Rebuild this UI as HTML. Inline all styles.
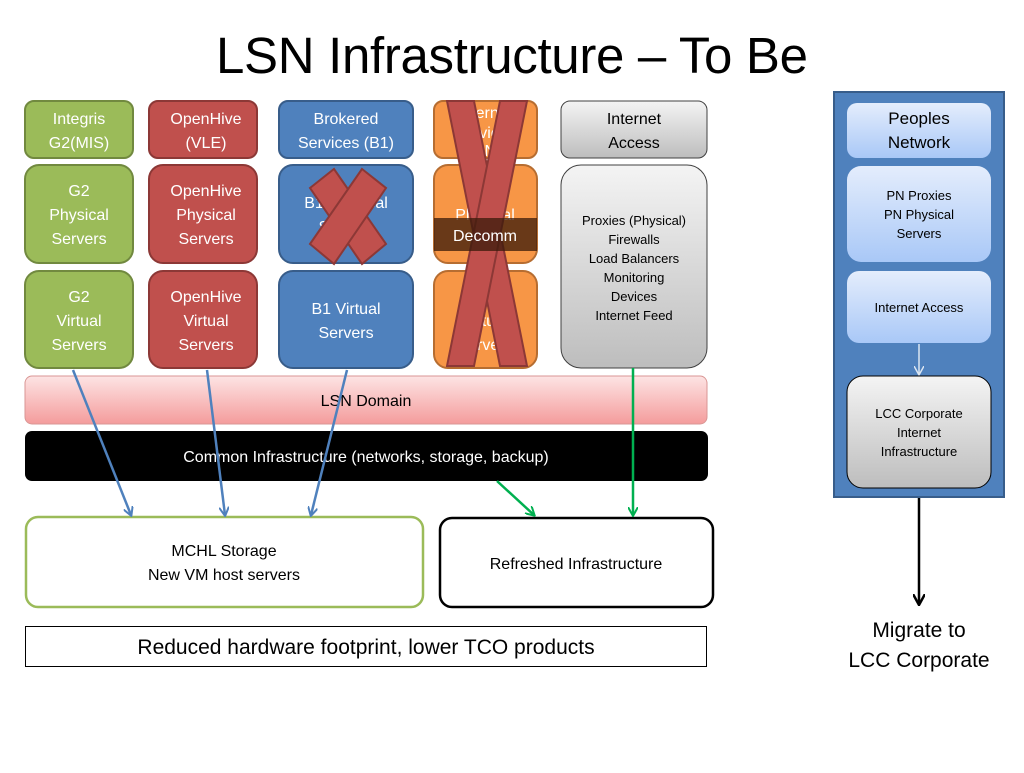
<!DOCTYPE html>
<html><head><meta charset="utf-8"><style>
body{margin:0;background:#fff}
svg text{font-family:"Liberation Sans",sans-serif}
</style></head><body>
<svg width="1024" height="768" viewBox="0 0 1024 768" xmlns="http://www.w3.org/2000/svg">
<defs>
<linearGradient id="pb" x1="0" y1="0" x2="0" y2="1"><stop offset="0" stop-color="#e4edfc"/><stop offset="1" stop-color="#a9c8f7"/></linearGradient>
<linearGradient id="gr" x1="0" y1="0" x2="0" y2="1"><stop offset="0" stop-color="#f4f4f4"/><stop offset="1" stop-color="#bdbdbd"/></linearGradient>
<linearGradient id="pk" x1="0" y1="0" x2="0" y2="1"><stop offset="0" stop-color="#fde4e4"/><stop offset="1" stop-color="#f49c9c"/></linearGradient>
<marker id="ab" markerWidth="10" markerHeight="10" refX="8" refY="5" orient="auto" markerUnits="userSpaceOnUse"><path d="M0,0 L9,5 L0,10" fill="none" stroke="#4f81bd" stroke-width="2"/></marker>
<marker id="ag" markerWidth="10" markerHeight="10" refX="8" refY="5" orient="auto" markerUnits="userSpaceOnUse"><path d="M0,0 L9,5 L0,10" fill="none" stroke="#00b050" stroke-width="2"/></marker>
<marker id="ak" markerWidth="12" markerHeight="12" refX="10" refY="6" orient="auto" markerUnits="userSpaceOnUse"><path d="M0,0 L11,6 L0,12" fill="none" stroke="#000" stroke-width="2.5"/></marker>
<marker id="aw" markerWidth="10" markerHeight="10" refX="8" refY="5" orient="auto" markerUnits="userSpaceOnUse"><path d="M0,0 L9,5 L0,10" fill="none" stroke="#dce6f2" stroke-width="1.5"/></marker>
</defs>
<text x="512" y="73" font-size="51" text-anchor="middle" fill="#000" textLength="592">LSN Infrastructure – To Be</text>

<g font-size="16" fill="#fff" text-anchor="middle" stroke-width="2">
<rect x="25" y="101" width="108" height="57" rx="9" fill="#9bbb59" stroke="#71893f"/>
<text x="79" y="124">Integris</text><text x="79" y="148">G2(MIS)</text>
<rect x="25" y="165" width="108" height="98" rx="14" fill="#9bbb59" stroke="#71893f"/>
<text x="79" y="196">G2</text><text x="79" y="220">Physical</text><text x="79" y="244">Servers</text>
<rect x="25" y="271" width="108" height="97" rx="14" fill="#9bbb59" stroke="#71893f"/>
<text x="79" y="302">G2</text><text x="79" y="326">Virtual</text><text x="79" y="350">Servers</text>
<rect x="149" y="101" width="108" height="57" rx="9" fill="#c0504d" stroke="#8c3836"/>
<text x="206" y="124">OpenHive</text><text x="206" y="148">(VLE)</text>
<rect x="149" y="165" width="108" height="98" rx="14" fill="#c0504d" stroke="#8c3836"/>
<text x="206" y="196">OpenHive</text><text x="206" y="220">Physical</text><text x="206" y="244">Servers</text>
<rect x="149" y="271" width="108" height="97" rx="14" fill="#c0504d" stroke="#8c3836"/>
<text x="206" y="302">OpenHive</text><text x="206" y="326">Virtual</text><text x="206" y="350">Servers</text>
<rect x="279" y="101" width="134" height="57" rx="9" fill="#4f81bd" stroke="#385d8a"/>
<text x="346" y="124">Brokered</text><text x="346" y="148">Services (B1)</text>
<rect x="279" y="165" width="134" height="98" rx="14" fill="#4f81bd" stroke="#385d8a"/>
<text x="346" y="208">B1 Physical</text><text x="346" y="232">Servers</text>
<rect x="279" y="271" width="134" height="97" rx="14" fill="#4f81bd" stroke="#385d8a"/>
<text x="346" y="314">B1 Virtual</text><text x="346" y="338">Servers</text>
<rect x="434" y="101" width="103" height="57" rx="9" fill="#f79646" stroke="#b66d31"/>
<text x="485" y="118">Internet</text><text x="485" y="138">Services</text><text x="485" y="156">PN</text>
<rect x="434" y="165" width="103" height="98" rx="14" fill="#f79646" stroke="#b66d31"/>
<text x="485" y="220">Physical</text>
<rect x="434" y="271" width="103" height="97" rx="14" fill="#f79646" stroke="#b66d31"/>
<text x="485" y="326">Virtual</text><text x="485" y="350">Servers</text>
<rect x="561" y="101" width="146" height="57" rx="9" fill="url(#gr)" stroke="#404040" stroke-width="1"/>
<text x="634" y="124" fill="#000">Internet</text><text x="634" y="148" fill="#000">Access</text>
<rect x="561" y="165" width="146" height="203" rx="20" fill="url(#gr)" stroke="#404040" stroke-width="1"/>
<g font-size="13" fill="#000">
<text x="634" y="225">Proxies (Physical)</text><text x="634" y="244">Firewalls</text><text x="634" y="263">Load Balancers</text><text x="634" y="282">Monitoring</text><text x="634" y="301">Devices</text><text x="634" y="320">Internet Feed</text>
</g>
</g>

<g fill="#c0504d" stroke="#8c3836" stroke-width="2">
<polygon points="310,188 334,169 386,244 362,264"/>
<polygon points="362,169 386,188 334,264 310,244"/>
</g>
<g fill="#c0504d" stroke="#8c3836" stroke-width="2">
<polygon points="447,101 474,101 527,366 500,366"/>
<polygon points="500,101 527,101 474,366 447,366"/>
</g>
<rect x="434" y="218" width="103" height="33" fill="#3a1a0a" opacity="0.75"/>
<text x="485" y="241" font-size="16" fill="#fff" text-anchor="middle">Decomm</text>

<rect x="25" y="376" width="682" height="48" rx="7" fill="url(#pk)" stroke="#d99694"/>
<text x="366" y="406" font-size="16" text-anchor="middle">LSN Domain</text>
<rect x="25" y="431" width="683" height="50" rx="7" fill="#000"/>
<text x="366" y="462" font-size="16" fill="#fff" text-anchor="middle">Common Infrastructure (networks, storage, backup)</text>

<rect x="26" y="517" width="397" height="90" rx="12" fill="#fff" stroke="#9bbb59" stroke-width="2.5"/>
<text x="224" y="556" font-size="16" text-anchor="middle">MCHL Storage</text>
<text x="224" y="580" font-size="16" text-anchor="middle">New VM host servers</text>
<rect x="440" y="518" width="273" height="89" rx="12" fill="#fff" stroke="#000" stroke-width="2.5"/>
<text x="576" y="569" font-size="16" text-anchor="middle">Refreshed Infrastructure</text>
<rect x="25.5" y="626.5" width="681" height="40" fill="#fff" stroke="#000" stroke-width="1"/>
<text x="366" y="654" font-size="21" text-anchor="middle">Reduced hardware footprint, lower TCO products</text>

<g stroke-width="2.5" fill="none">
<line x1="73" y1="370" x2="131" y2="515" stroke="#4f81bd" marker-end="url(#ab)"/>
<line x1="207" y1="370" x2="225" y2="515" stroke="#4f81bd" marker-end="url(#ab)"/>
<line x1="347" y1="370" x2="311" y2="515" stroke="#4f81bd" marker-end="url(#ab)"/>
<line x1="497" y1="481" x2="534" y2="515" stroke="#00b050" marker-end="url(#ag)"/>
<line x1="633" y1="368" x2="633" y2="515" stroke="#00b050" marker-end="url(#ag)"/>
</g>

<rect x="834" y="92" width="170" height="405" fill="#4f81bd" stroke="#385d8a" stroke-width="2"/>
<g text-anchor="middle" fill="#000">
<rect x="847" y="103" width="144" height="55" rx="10" fill="url(#pb)"/>
<text x="919" y="124" font-size="17">Peoples</text><text x="919" y="148" font-size="17">Network</text>
<rect x="847" y="166" width="144" height="96" rx="14" fill="url(#pb)"/>
<text x="919" y="200" font-size="13">PN Proxies</text><text x="919" y="219" font-size="13">PN Physical</text><text x="919" y="238" font-size="13">Servers</text>
<rect x="847" y="271" width="144" height="72" rx="12" fill="url(#pb)"/>
<text x="919" y="312" font-size="13">Internet Access</text>
<line x1="919" y1="344" x2="919" y2="374" stroke="#dce6f2" stroke-width="1.5" marker-end="url(#aw)"/>
<rect x="847" y="376" width="144" height="112" rx="16" fill="url(#gr)" stroke="#000" stroke-width="1"/>
<text x="919" y="418" font-size="13">LCC Corporate</text><text x="919" y="437" font-size="13">Internet</text><text x="919" y="456" font-size="13">Infrastructure</text>
</g>
<line x1="919" y1="498" x2="919" y2="604" stroke="#000" stroke-width="2.5" marker-end="url(#ak)"/>
<text x="919" y="637" font-size="21" text-anchor="middle">Migrate to</text>
<text x="919" y="667" font-size="21" text-anchor="middle">LCC Corporate</text>
</svg>
</body></html>
